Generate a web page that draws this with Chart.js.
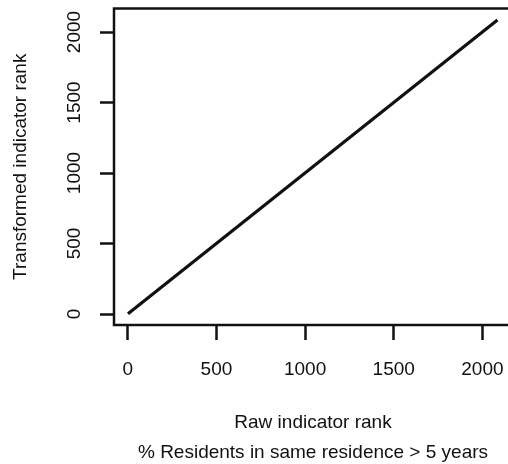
<!DOCTYPE html>
<html>
<head>
<meta charset="utf-8">
<script src="https://cdn.jsdelivr.net/npm/chart.js@4"></script>
<style>
	html, body { margin: 0; padding: 0; overflow: hidden; background: #fff; }
	#wrap { width: 512px; height: 468px; }
</style>
</head>
<body>
<div id="wrap"><canvas id="rank-chart"></canvas></div>
<script>
// raw rank vs transformed rank (identity line)
const rawRank = [1, 2085];
const transformedRank = [1, 2085];
const tickValues = [0, 500, 1000, 1500, 2000];
const xTitle = ["Raw indicator rank", "% Residents in same residence > 5 years"];
const yTitle = "Transformed indicator rank";

const points = rawRank.map((x, i) => ({ x: x, y: transformedRank[i] }));

const ink = "#111";
const fontFamily = "'Liberation Sans', Arial, Helvetica, sans-serif";
const fontSize = 19;

const boxPlugin = {
	id: "plotBox",
	afterDraw(chart) {
		const { ctx, chartArea } = chart;
		ctx.save();
		ctx.strokeStyle = ink;
		ctx.lineWidth = 2.5;
		ctx.strokeRect(chartArea.left, chartArea.top, chartArea.right - chartArea.left, chartArea.bottom - chartArea.top);
		ctx.restore();
	},
};

// no extra room for edge labels, the plot box is placed by hand
const noPad = scale => {
	scale.paddingTop = 0;
	scale.paddingBottom = 0;
	scale.paddingLeft = 0;
	scale.paddingRight = 0;
};

const ctx = document.getElementById("rank-chart").getContext("2d");
new Chart(ctx, {
	type: "line",
	data: {
		datasets: [
			{
				data: points,
				borderColor: ink,
				borderWidth: 3.2,
				pointRadius: 0,
				fill: false,
				tension: 0,
			},
		],
	},
	options: {
		responsive: true,
		maintainAspectRatio: false,
		animation: false,
		layout: { padding: { top: 8.5, left: 0, right: 0, bottom: 0 } },
		plugins: {
			legend: { display: false },
			tooltip: { enabled: false },
		},
		scales: {
			x: {
				type: "linear",
				min: -78,
				max: 2167,
				afterBuildTicks: scale => {
					scale.ticks = tickValues.map(v => ({ value: v }));
				},
				afterFit: scale => {
					scale.height = 143;
					noPad(scale);
				},
				grid: {
					drawOnChartArea: false,
					drawTicks: true,
					tickLength: 15,
					tickWidth: 2.5,
					tickColor: ink,
				},
				border: { display: false },
				ticks: {
					padding: 18.6,
					maxRotation: 0,
					minRotation: 0,
					color: ink,
					font: { family: fontFamily, size: fontSize },
					callback: v => String(v),
				},
				title: {
					display: true,
					text: xTitle,
					color: ink,
					font: { family: fontFamily, size: fontSize, lineHeight: "30px" },
					padding: { top: 0, bottom: 0 },
				},
			},
			y: {
				type: "linear",
				min: -78,
				max: 2167,
				afterBuildTicks: scale => {
					scale.ticks = tickValues.map(v => ({ value: v }));
				},
				afterFit: scale => {
					scale.width = 114;
					noPad(scale);
				},
				grid: {
					drawOnChartArea: false,
					drawTicks: true,
					tickLength: 14,
					tickWidth: 2.5,
					tickColor: ink,
				},
				border: { display: false },
				ticks: {
					padding: 4,
					minRotation: 90,
					maxRotation: 90,
					crossAlign: "center",
					color: ink,
					font: { family: fontFamily, size: fontSize },
					callback: v => String(v),
				},
				title: {
					display: true,
					text: yTitle,
					color: ink,
					font: { family: fontFamily, size: fontSize },
					padding: { top: 9, bottom: 0 },
				},
			},
		},
	},
	plugins: [boxPlugin],
});
</script>
</body>
</html>
